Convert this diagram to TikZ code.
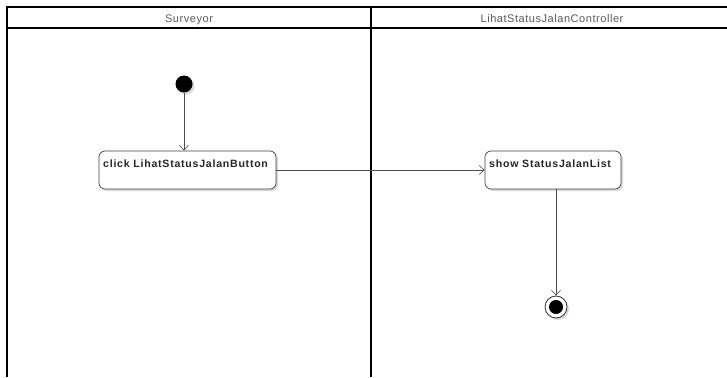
\documentclass[tikz,border=0pt]{standalone}
\usepackage{fontspec}
\setmainfont{Liberation Sans}
\usetikzlibrary{arrows.meta,shadows}
\begin{document}
\begin{tikzpicture}[x=1pt,y=-1pt,
  lane/.style={line width=1.6pt,black},
  lanetitle/.style={font=\fontsize{11}{13}\selectfont\addfontfeature{LetterSpace=5},text=black!65,anchor=base,inner sep=0pt},
  action/.style={draw=black!75,line width=0.7pt,rounded corners=6pt,fill=white,
    drop shadow={shadow xshift=2pt,shadow yshift=-2pt,opacity=0.15,fill=black}},
  acttext/.style={font=\fontsize{10.6}{12}\selectfont\bfseries\addfontfeature{LetterSpace=7},text=black!85,anchor=base west,inner sep=0pt},
  flow/.style={draw=black!70,line width=0.6pt,-{Straight Barb[length=5pt,width=9pt]}},
  startnode/.style={circle,fill=black,minimum size=17pt,inner sep=0pt,
    drop shadow={shadow xshift=2pt,shadow yshift=-2pt,opacity=0.15,fill=black}},
]
\useasboundingbox (0,0) rectangle (727,377);
% swimlane frame
\draw[lane] (7,377) -- (7,7) -- (727,7);
\draw[lane] (7,28) -- (727,28);
\draw[lane] (371,7) -- (371,377);
\node[lanetitle] (t1) at (189,23) {Surveyor};
\node[lanetitle] (t2) at (552,23) {LihatStatusJalanController};
% initial node
\node[startnode] (init) at (184,84) {};
% actions
\node[action,minimum width=177pt,minimum height=38pt,inner sep=0pt] (a1) at (187.5,170) {};
\node[acttext] (a1t) at (103,167) {click LihatStatusJalanButton};
\node[action,minimum width=136pt,minimum height=38pt,inner sep=0pt] (a2) at (553,170) {};
\node[acttext] (a2t) at (489,167) {show StatusJalanList};
% final node
\node[circle,draw=black!80,line width=0.8pt,fill=white,minimum size=22pt,inner sep=0pt,
  drop shadow={shadow xshift=2pt,shadow yshift=-2pt,opacity=0.15,fill=black}] (fin) at (556,307) {};
\node[circle,fill=black,minimum size=14pt,inner sep=0pt] (finc) at (fin) {};
% control flows
\draw[flow] (init) -- (init |- a1.north);
\draw[flow] (a1) -- (a2);
\draw[flow] (a2.south -| fin) -- (fin);
\end{tikzpicture}
\end{document}
